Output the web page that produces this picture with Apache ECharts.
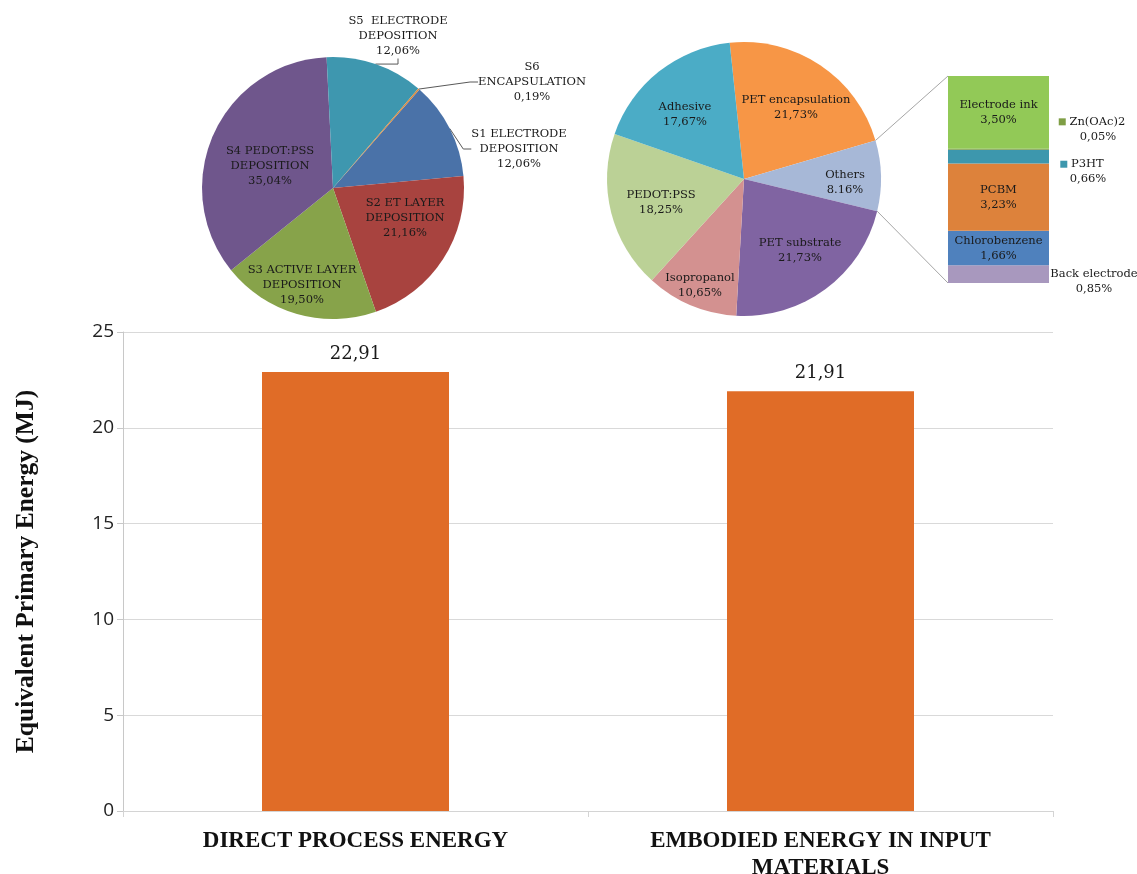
<!DOCTYPE html>
<html>
<head>
<meta charset="utf-8">
<script src="https://cdn.jsdelivr.net/npm/echarts@6/dist/echarts.min.js"></script>
<style>
  html, body { margin: 0; padding: 0; background: #ffffff; }
  #main { width: 1137px; height: 874px; }
</style>
</head>
<body>
<div id="main"></div>
<script>
// ---- Data ----------------------------------------------------------------
// Total equivalent primary energy (MJ)
const energyCategories = ['DIRECT PROCESS ENERGY', 'EMBODIED ENERGY IN INPUT\nMATERIALS'];
const energyValues = [22.91, 21.91];
const yAxisMin = 0, yAxisMax = 25, yAxisStep = 5;

// Direct process energy by production step (%)
const stepNames = [
  'S1 ELECTRODE\nDEPOSITION',
  'S2 ET LAYER\nDEPOSITION',
  'S3 ACTIVE LAYER\nDEPOSITION',
  'S4 PEDOT:PSS\nDEPOSITION',
  'S5  ELECTRODE\nDEPOSITION',
  'S6\nENCAPSULATION'
];
const stepValues = [12.06, 21.16, 19.50, 35.04, 12.06, 0.19];

// Embodied energy by input material (%)
const materialNames = ['PET encapsulation', 'Others', 'PET substrate', 'Isopropanol', 'PEDOT:PSS', 'Adhesive'];
const materialValues = [21.73, 8.16, 21.73, 10.65, 18.25, 17.67];

// Breakdown of "Others" (%), listed top to bottom
const otherNames = ['Electrode ink', 'Zn(OAc)2', 'P3HT', 'PCBM', 'Chlorobenzene', 'Back electrode'];
const otherValues = [3.50, 0.05, 0.66, 3.23, 1.66, 0.85];

// ---- Styling ---------------------------------------------------------------
const SERIF = '"DejaVu Serif", serif';
const BOLD_SERIF = '"Liberation Serif", "Times New Roman", serif';
const SANS = '"Open Sans", "Noto Sans", sans-serif';

const stepColors = ['#4A72A8', '#A8433F', '#87A34A', '#6F568C', '#3E97AF', '#D98A3E'];
const stepOutside = [true, false, false, false, true, true];
const stepLabelAt = [[519, 149], [405, 218], [302, 285], [270, 166], [398, 36], [532, 82]];

const materialColors = ['#F79646', '#A7B8D7', '#8064A2', '#D39190', '#BBD196', '#4BACC6'];
const materialLabelAt = [[796, 108], [845, 183], [800, 251], [700, 286], [661, 203], [685, 115]];

const otherColors = ['#92C957', '#7F9E45', '#3D97AD', '#DD823B', '#4F81BD', '#A898BE'];

const leftPie = { cx: 333, cy: 188, r: 131, start: 48.7 };
const rightPie = { cx: 744, cy: 179, r: 137, start: 96 };
const stackBox = { left: 948, top: 76, width: 101, height: 207 };

function pct(v, sep) {
  return v.toFixed(2).replace('.', sep || ',') + '%';
}
const sum = arr => arr.reduce((a, b) => a + b, 0);

// ---- Stacked "Others" column (drawn bottom to top) ------------------------
const otherSeries = [];
for (let i = otherNames.length - 1; i >= 0; i--) {
  const name = otherNames[i];
  let label;
  if (name === 'Zn(OAc)2' || name === 'P3HT') {
    const dx = name === 'Zn(OAc)2' ? 43 : 33;
    const dy = name === 'Zn(OAc)2' ? -20 : 15;
    label = {
      show: true,
      position: ['100%', '50%'],
      align: 'center',
      verticalAlign: 'middle',
      offset: [dx, dy],
      formatter: '{m|}{n| ' + name + '}\n{v|' + pct(otherValues[i]) + '}',
      rich: {
        m: { width: 7, height: 7, backgroundColor: otherColors[i] },
        n: { fontFamily: SERIF, fontSize: 11.5, color: '#1a1a1a', lineHeight: 15 },
        v: { fontFamily: SERIF, fontSize: 11.5, color: '#1a1a1a', lineHeight: 15, padding: [0, 0, 0, 12] }
      }
    };
  } else if (name === 'Back electrode') {
    label = {
      show: true,
      position: ['100%', '50%'],
      align: 'center',
      verticalAlign: 'middle',
      offset: [45, 7],
      formatter: name + '\n' + pct(otherValues[i]),
      fontFamily: SERIF, fontSize: 11.5, lineHeight: 15, color: '#1a1a1a'
    };
  } else {
    label = {
      show: true,
      position: 'inside',
      formatter: name + '\n' + pct(otherValues[i]),
      fontFamily: SERIF, fontSize: 11.5, lineHeight: 15, color: '#1a1a1a'
    };
  }
  otherSeries.push({
    type: 'bar',
    name: name,
    xAxisIndex: 1,
    yAxisIndex: 1,
    stack: 'others',
    barWidth: '100%',
    data: [otherValues[i]],
    itemStyle: { color: otherColors[i] },
    label: label,
    silent: true
  });
}

const option = {
  backgroundColor: '#ffffff',
  animation: false,
  grid: [
    { left: 123, top: 332, width: 930, height: 479, outerBoundsMode: 'none', containLabel: false },
    { left: stackBox.left, top: stackBox.top, width: stackBox.width, height: stackBox.height, outerBoundsMode: 'none', containLabel: false }
  ],
  xAxis: [
    {
      type: 'category',
      gridIndex: 0,
      data: energyCategories,
      axisLine: { show: true, lineStyle: { color: '#D4D4D4', width: 1 } },
      axisTick: { show: true, length: 6, lineStyle: { color: '#D4D4D4' } },
      axisLabel: {
        interval: 0,
        margin: 17,
        fontFamily: BOLD_SERIF,
        fontWeight: 'bold',
        fontSize: 23,
        lineHeight: 27,
        color: '#111111'
      }
    },
    { type: 'category', gridIndex: 1, data: ['Others'], show: false }
  ],
  yAxis: [
    {
      type: 'value',
      gridIndex: 0,
      min: yAxisMin,
      max: yAxisMax,
      interval: yAxisStep,
      name: 'Equivalent Primary Energy (MJ)',
      nameLocation: 'middle',
      nameGap: 84,
      nameTextStyle: { fontFamily: BOLD_SERIF, fontWeight: 'bold', fontSize: 25.5, color: '#111111' },
      axisLine: { show: true, lineStyle: { color: '#C8C8C8' } },
      axisTick: { show: true, length: 6, lineStyle: { color: '#C8C8C8' } },
      splitLine: { show: true, lineStyle: { color: '#D9D9D9' } },
      axisLabel: { fontFamily: SANS, fontSize: 19, color: '#222222', margin: 9 }
    },
    { type: 'value', gridIndex: 1, min: 0, max: sum(otherValues), show: false }
  ],
  series: [
    {
      type: 'bar',
      name: 'Equivalent primary energy',
      xAxisIndex: 0,
      yAxisIndex: 0,
      barWidth: 187,
      data: energyValues,
      itemStyle: { color: '#E06C27' },
      label: {
        show: true,
        position: 'top',
        distance: 9,
        fontFamily: SERIF,
        fontSize: 18,
        color: '#1a1a1a',
        formatter: p => p.value.toFixed(2).replace('.', ',')
      },
      silent: true
    },
    {
      type: 'pie',
      name: 'Direct process energy',
      center: [leftPie.cx, leftPie.cy],
      radius: leftPie.r,
      startAngle: leftPie.start,
      clockwise: true,
      avoidLabelOverlap: false,
      silent: true,
      itemStyle: { borderWidth: 0 },
      data: stepNames.map((n, i) => ({
        name: n,
        value: stepValues[i],
        itemStyle: { color: stepColors[i] },
        label: { position: stepOutside[i] ? 'outside' : 'inside' },
        labelLine: { show: stepOutside[i] }
      })),
      label: {
        show: true,
        formatter: p => p.name + '\n' + pct(p.value),
        fontFamily: SERIF,
        fontSize: 11.5,
        lineHeight: 15,
        color: '#1a1a1a',
        align: 'center'
      },
      labelLine: { length: 8, length2: 8, lineStyle: { color: '#595959', width: 1 } },
      labelLayout: p => {
        const at = stepLabelAt[p.dataIndex];
        return { x: at[0], y: at[1], align: 'center', verticalAlign: 'middle' };
      }
    },
    {
      type: 'pie',
      name: 'Embodied energy',
      center: [rightPie.cx, rightPie.cy],
      radius: rightPie.r,
      startAngle: rightPie.start,
      clockwise: true,
      avoidLabelOverlap: false,
      silent: true,
      itemStyle: { borderWidth: 0 },
      data: materialNames.map((n, i) => ({
        name: n,
        value: materialValues[i],
        itemStyle: { color: materialColors[i] }
      })),
      label: {
        show: true,
        position: 'inside',
        formatter: p => p.name + '\n' + pct(p.value, p.name === 'Others' ? '.' : ','),
        fontFamily: SERIF,
        fontSize: 11.5,
        lineHeight: 15,
        color: '#1a1a1a',
        align: 'center'
      },
      labelLine: { show: false },
      labelLayout: p => {
        const at = materialLabelAt[p.dataIndex];
        return { x: at[0], y: at[1], align: 'center', verticalAlign: 'middle' };
      }
    }
  ].concat(otherSeries)
};

const chart = echarts.init(document.getElementById('main'), null, { renderer: 'canvas' });
chart.setOption(option);

// Connector lines from the "Others" slice to the breakdown column
(function () {
  const total = sum(materialValues);
  const idx = materialNames.indexOf('Others');
  const before = sum(materialValues.slice(0, idx));
  const deg = Math.PI / 180;
  const a1 = (rightPie.start - before / total * 360) * deg;
  const a2 = (rightPie.start - (before + materialValues[idx]) / total * 360) * deg;
  const p1 = [rightPie.cx + rightPie.r * Math.cos(a1), rightPie.cy - rightPie.r * Math.sin(a1)];
  const p2 = [rightPie.cx + rightPie.r * Math.cos(a2), rightPie.cy - rightPie.r * Math.sin(a2)];
  const yTop = chart.convertToPixel({ yAxisIndex: 1 }, sum(otherValues));
  const yBottom = chart.convertToPixel({ yAxisIndex: 1 }, 0);
  const xLeft = stackBox.left;
  chart.setOption({
    graphic: [
      { type: 'line', silent: true, shape: { x1: p1[0], y1: p1[1], x2: xLeft, y2: yTop }, style: { stroke: '#A6A6A6', lineWidth: 1 } },
      { type: 'line', silent: true, shape: { x1: p2[0], y1: p2[1], x2: xLeft, y2: yBottom }, style: { stroke: '#A6A6A6', lineWidth: 1 } }
    ]
  });
})();
</script>
</body>
</html>
